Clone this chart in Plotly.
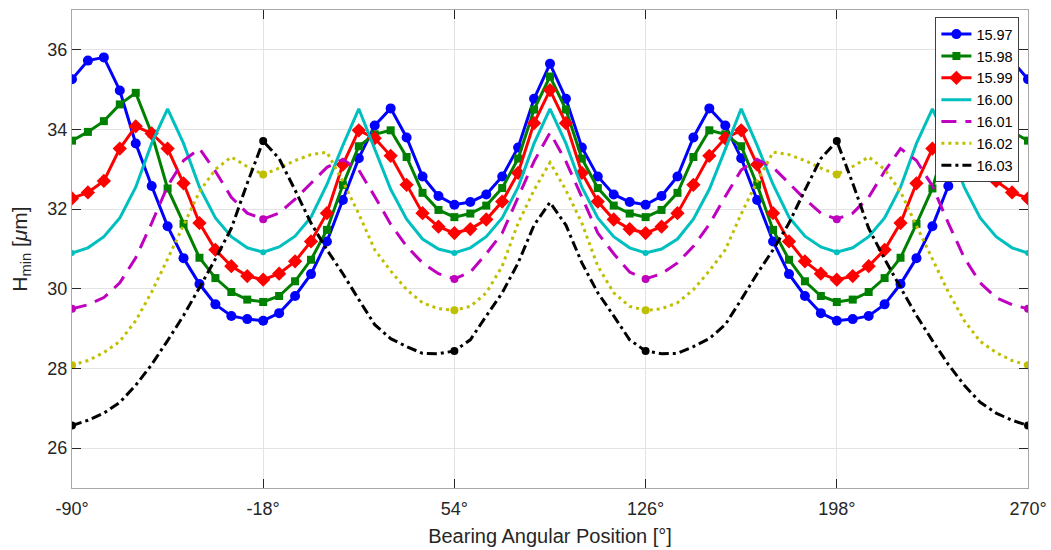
import plotly.graph_objects as go

angles = list(range(-90, 271, 6))
xtick_vals = [-90, -18, 54, 126, 198, 270]
xtick_text = ["-90°", "-18°", "54°", "126°", "198°", "270°"]
ytick_vals = [26, 28, 30, 32, 34, 36]

s1597 = [35.26, 35.73, 35.81, 34.98, 33.65, 32.58, 31.57, 30.77, 30.12, 29.61, 29.32, 29.24, 29.20, 29.39, 29.82, 30.37,
         31.19, 32.23, 33.28, 34.10, 34.53, 33.80, 32.82, 32.33, 32.11, 32.18, 32.37, 32.82, 33.55, 34.77, 35.65,
         34.77, 33.55, 32.82, 32.37, 32.18, 32.11, 32.33, 32.82, 33.80, 34.53, 34.10, 33.28, 32.23, 31.19, 30.37,
         29.82, 29.39, 29.20, 29.24, 29.32, 29.61, 30.12, 30.77, 31.57, 32.58, 33.65, 34.98, 35.81, 35.73, 35.26]
s1598 = [33.72, 33.94, 34.21, 34.63, 34.92, 33.90, 32.52, 31.63, 30.78, 30.27, 29.92, 29.73, 29.67, 29.82, 30.19, 30.73,
         31.48, 32.61, 33.58, 33.88, 33.98, 33.31, 32.41, 31.98, 31.80, 31.89, 32.09, 32.53, 33.27, 34.50, 35.33,
         34.50, 33.27, 32.53, 32.09, 31.89, 31.80, 31.98, 32.41, 33.31, 33.98, 33.88, 33.58, 32.61, 31.48, 30.73,
         30.19, 29.82, 29.67, 29.73, 29.92, 30.27, 30.78, 31.63, 32.52, 33.90, 34.92, 34.63, 34.21, 33.94, 33.72]
s1599 = [32.27, 32.42, 32.71, 33.52, 34.08, 33.90, 33.52, 32.65, 31.65, 30.98, 30.57, 30.32, 30.23, 30.38, 30.69, 31.19,
         31.90, 33.12, 33.98, 33.78, 33.34, 32.61, 31.90, 31.56, 31.40, 31.50, 31.74, 32.19, 32.91, 34.16, 34.99,
         34.16, 32.91, 32.19, 31.74, 31.50, 31.40, 31.56, 31.90, 32.61, 33.34, 33.78, 33.98, 33.12, 31.90, 31.19,
         30.69, 30.38, 30.23, 30.32, 30.57, 30.98, 31.65, 32.65, 33.52, 33.90, 34.08, 33.52, 32.71, 32.42, 32.27]
s1600 = [30.90, 31.03, 31.31, 31.78, 32.55, 33.65, 34.52, 33.65, 32.55, 31.78, 31.31, 31.03, 30.92, 31.05, 31.32, 31.80,
         32.62, 33.60, 34.52, 33.50, 32.50, 31.75, 31.25, 31.00, 30.90, 31.03, 31.31, 31.78, 32.55, 33.65, 34.52,
         33.65, 32.55, 31.78, 31.31, 31.03, 30.90, 31.00, 31.25, 31.75, 32.50, 33.50, 34.52, 33.60, 32.62, 31.80,
         31.32, 31.05, 30.92, 31.03, 31.31, 31.78, 32.55, 33.65, 34.52, 33.65, 32.55, 31.78, 31.31, 31.03, 30.90]
s1601 = [29.50, 29.60, 29.78, 30.15, 30.78, 31.65, 32.58, 33.22, 33.52, 32.95, 32.30, 31.90, 31.75, 31.90, 32.25, 32.65,
         33.05, 33.25, 32.98, 32.32, 31.62, 31.07, 30.65, 30.38, 30.25, 30.42, 30.88, 31.40, 32.30, 33.20, 33.92,
         33.20, 32.30, 31.40, 30.88, 30.42, 30.25, 30.38, 30.65, 31.07, 31.62, 32.32, 32.98, 33.25, 33.05, 32.65,
         32.25, 31.90, 31.75, 31.90, 32.30, 32.95, 33.52, 33.22, 32.58, 31.65, 30.78, 30.15, 29.78, 29.60, 29.50]
s1602 = [28.08, 28.20, 28.40, 28.68, 29.20, 29.92, 30.75, 31.58, 32.44, 33.00, 33.31, 33.07, 32.87, 33.03, 33.22, 33.37,
         33.43, 32.70, 31.88, 30.98, 30.45, 29.98, 29.65, 29.50, 29.46, 29.56, 29.90, 30.57, 31.65, 32.48, 33.17,
         32.48, 31.65, 30.57, 29.90, 29.56, 29.46, 29.50, 29.65, 29.98, 30.45, 30.98, 31.88, 32.70, 33.43, 33.37,
         33.22, 33.03, 32.87, 33.07, 33.31, 33.00, 32.44, 31.58, 30.75, 29.92, 29.20, 28.68, 28.40, 28.20, 28.08]
s1603 = [26.57, 26.70, 26.88, 27.15, 27.58, 28.10, 28.70, 29.33, 30.03, 30.75, 31.52, 32.65, 33.71, 33.27, 32.48, 31.65,
         30.98, 30.38, 29.73, 29.10, 28.75, 28.55, 28.38, 28.37, 28.44, 28.72, 29.32, 29.90, 30.65, 31.60, 32.17,
         31.60, 30.65, 29.90, 29.32, 28.72, 28.44, 28.37, 28.38, 28.55, 28.75, 29.10, 29.73, 30.38, 30.98, 31.65,
         32.48, 33.27, 33.71, 32.65, 31.52, 30.75, 30.03, 29.33, 28.70, 28.10, 27.58, 27.15, 26.88, 26.70, 26.57]

series_names = ["15.97", "15.98", "15.99", "16.00", "16.01", "16.02", "16.03"]
series_vals = [s1597, s1598, s1599, s1600, s1601, s1602, s1603]
colors = ["#0000FF", "#008000", "#FF0000", "#00BFBF", "#BF00BF", "#BFBF00", "#000000"]
dashes = ["solid", "solid", "solid", "solid", "15px,9px", "3px,4px", "10px,4px,3px,4px"]
symbols = ["circle", "square", "diamond", None, "circle", "circle", "circle"]
msizes = [10, 8, 11, 6, 8, 8, 8]

fig = go.Figure()
for i, (name, vals) in enumerate(zip(series_names, series_vals)):
    if i < 3:
        fig.add_trace(go.Scatter(
            x=angles, y=vals, name=name, mode="lines+markers",
            line=dict(color=colors[i], width=3, dash=dashes[i]),
            marker=dict(symbol=symbols[i], size=msizes[i], color=colors[i])))
    else:
        fig.add_trace(go.Scatter(
            x=angles, y=vals, name=name, mode="lines",
            line=dict(color=colors[i], width=3, dash=dashes[i])))
for i in range(3, 7):
    fig.add_trace(go.Scatter(
        x=angles[::12], y=series_vals[i][::12], mode="markers", showlegend=False,
        hoverinfo="skip",
        marker=dict(symbol="circle", size=msizes[i], color=colors[i])))

axis_common = dict(
    showline=True, linecolor="#A8A8A8", linewidth=1, mirror="ticks",
    ticks="inside", ticklen=9, tickcolor="#262626", tickwidth=1,
    showgrid=True, gridcolor="#E3E3E3", gridwidth=1, zeroline=False,
    automargin=False,
    tickfont=dict(family="Liberation Sans, Arial", size=18, color="#262626"),
)

fig.update_layout(
    width=1051, height=550,
    margin=dict(l=72, r=23, t=10, b=62, autoexpand=False),
    paper_bgcolor="white", plot_bgcolor="white",
    font=dict(family="Liberation Sans, Arial", color="#262626"),
    xaxis=dict(range=[-90, 270], tickvals=xtick_vals, ticktext=xtick_text,
               ticklabelstandoff=4,
               title=dict(text="Bearing Angular Position [°]", font=dict(size=20), standoff=11),
               **axis_common),
    yaxis=dict(range=[25, 37], tickvals=ytick_vals,
               title=dict(text="H<sub>min</sub> [<i>μ</i>m]", font=dict(size=21), standoff=14),
               **axis_common),
    legend=dict(x=0.991, xanchor="right", y=0.985, yanchor="top",
                bgcolor="white", bordercolor="#404040", borderwidth=1,
                font=dict(size=14.5, color="#000000"), itemwidth=30, tracegroupgap=0),
    showlegend=True,
)

fig.write_html("out.html")
